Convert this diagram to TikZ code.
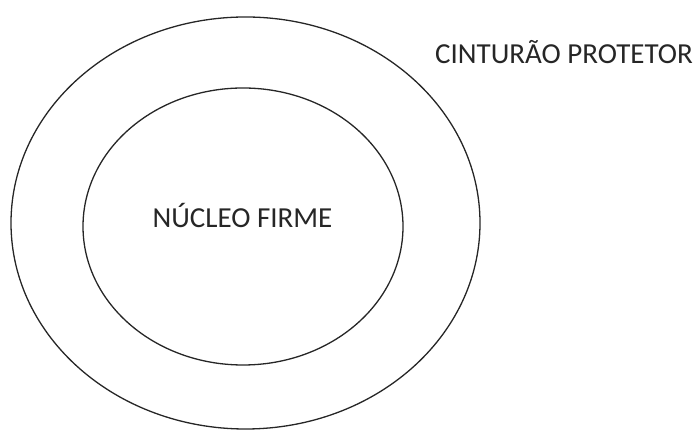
\documentclass[tikz,border=0pt]{standalone}
\usepackage{fontspec}
\setmainfont{Carlito}
\usetikzlibrary{shapes.geometric}
\begin{document}
\begin{tikzpicture}[x=1pt,y=1pt,
  ring/.style={draw=black!85, line width=1.3pt, ellipse, inner sep=0pt, outer sep=0pt},
  lbl/.style={inner sep=0pt, font=\fontsize{29}{33}\selectfont, text=black!85}]
\useasboundingbox (0,0) rectangle (698,430);
\node[ring, minimum width=469pt, minimum height=412pt] (outer) at (245.5,207) {};
\node[ring, minimum width=320pt, minimum height=277pt] (inner) at (243,203.5) {};
\node[lbl, anchor=base] (nucleo) at (242.5,202) {NÚCLEO FIRME};
\node[lbl, anchor=base west] (cinturao) at (435,366) {CINTURÃO PROTETOR};
\end{tikzpicture}
\end{document}
